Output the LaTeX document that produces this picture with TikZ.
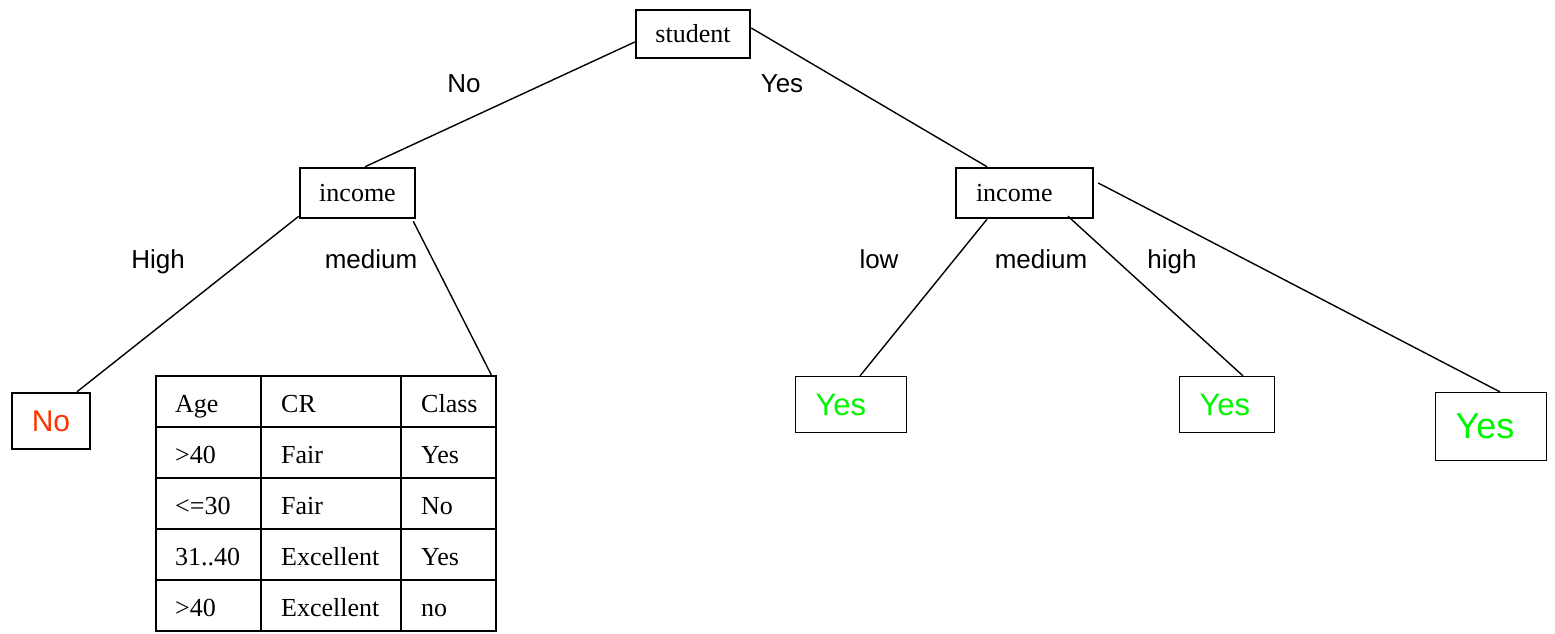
\documentclass[tikz,border=0pt]{standalone}
\usepackage{fontspec}
\setmainfont{Liberation Serif}
\newfontfamily\labelfont{Liberation Sans}
\usetikzlibrary{calc}
\definecolor{leafred}{RGB}{255,51,0}
\definecolor{leafgreen}{RGB}{0,245,0}

\begin{document}
\begin{tikzpicture}[x=1pt,y=-1pt,
  testbox/.style={draw,line width=2.5pt,inner sep=0pt,font=\fontsize{26}{30}\selectfont},
  leftbox/.style={draw,inner ysep=0pt,inner xsep=20pt,align=left},
  yesbox/.style={leftbox,line width=1.2pt,text=leafgreen,font=\labelfont\fontsize{31}{36}\selectfont},
  nobox/.style={draw,line width=2.5pt,inner sep=0pt,text=leafred,font=\labelfont\fontsize{30}{34}\selectfont},
  branch/.style={line width=1.4pt},
  blabel/.style={anchor=base,font=\labelfont\fontsize{26}{30}\selectfont,inner sep=0pt},
  cell/.style={anchor=base west,inner sep=0pt,font=\fontsize{26}{30}\selectfont},
  grid/.style={line width=2.5pt}
]
\useasboundingbox (0,0) rectangle (1555,633);

% decision nodes
\node[testbox,minimum width=114,minimum height=48] (student) at (693,34) {student};
\node[testbox,minimum width=115,minimum height=50] (incL) at (357.5,193) {income};
\node[testbox,leftbox,line width=2.5pt,text width=97,minimum height=50] (incR) at (1024.5,193) {income};

% leaves
\node[nobox,minimum width=78,minimum height=56] (no) at (51,421) {No};
\node[yesbox,text width=71,minimum height=56] (y1) at (851,404.5) {Yes};
\node[yesbox,text width=55,minimum height=56] (y2) at (1227,404.5) {Yes};
\node[yesbox,text width=71,minimum height=68,font=\labelfont\fontsize{36}{40}\selectfont] (y3) at (1491,426.5) {Yes};

% table leaf
\node[draw,grid,minimum width=340,minimum height=255,inner sep=0pt] (tbl) at (326,503.5) {};
\foreach \dx in {106,246}
  \draw[grid] ($(tbl.north west)+(\dx,0)$) -- ($(tbl.south west)+(\dx,0)$);
\foreach \dy in {52,103,154,205}
  \draw[grid] ($(tbl.north west)+(0,\dy)$) -- ($(tbl.north east)+(0,\dy)$);

\node[cell] (a0) at (175,412) {Age};
\node[cell] (c0) at (281,412) {CR};
\node[cell] (k0) at (421,412) {Class};
\node[cell] (a1) at (175,463) {>40};
\node[cell] (c1) at (281,463) {Fair};
\node[cell] (k1) at (421,463) {Yes};
\node[cell] (a2) at (175,514) {<=30};
\node[cell] (c2) at (281,514) {Fair};
\node[cell] (k2) at (421,514) {No};
\node[cell] (a3) at (175,565) {31..40};
\node[cell] (c3) at (281,565) {Excellent};
\node[cell] (k3) at (421,565) {Yes};
\node[cell] (a4) at (175,616) {>40};
\node[cell] (c4) at (281,616) {Excellent};
\node[cell] (k4) at (421,616) {no};

% branches
\draw[branch] ($(student.west)+(0,8)$) -- ($(incL.north)+(7.5,0)$);
\draw[branch] ($(student.east)+(0,-6)$) -- ($(incR.north)+(-37.5,0)$);
\draw[branch] ($(incL.south west)+(0,-3)$) -- ($(no.north)+(26,0)$);
\draw[branch] ($(incL.south east)+(-3,2)$) -- ($(tbl.north east)+(-6,0)$);
\draw[branch] ($(incR.south)+(-37.5,0)$) -- ($(y1.north)+(9,0)$);
\draw[branch] ($(incR.south)+(43.5,-3)$) -- ($(y2.north)+(16,0)$);
\draw[branch] ($(incR.east)+(4,-10)$) -- ($(y3.north)+(9,0)$);

% branch labels
\node[blabel] (lno) at (464,92) {No};
\node[blabel] (lyes) at (782,92) {Yes};
\node[blabel] (lhigh) at (158,268) {High};
\node[blabel] (lmedL) at (371,268) {medium};
\node[blabel] (llow) at (879,268) {low};
\node[blabel] (lmedR) at (1041,268) {medium};
\node[blabel] (lhighR) at (1172,268) {high};
\end{tikzpicture}
\end{document}
